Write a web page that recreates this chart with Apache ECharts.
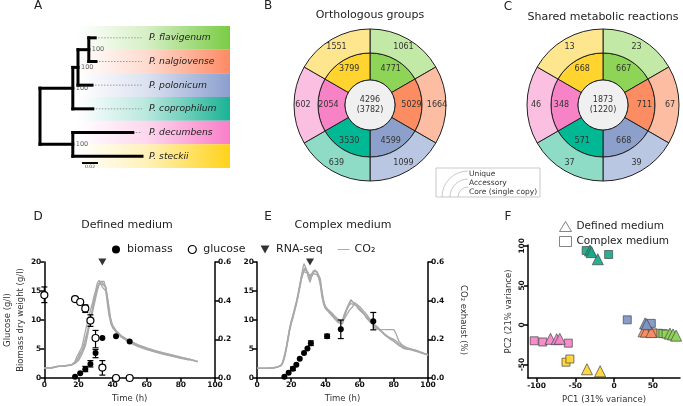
<!DOCTYPE html>
<html><head><meta charset="utf-8">
<script src="https://cdn.jsdelivr.net/npm/echarts@6/dist/echarts.min.js"></script>
<style>html,body{margin:0;padding:0;background:#fff}#c{width:683px;height:406px}</style>
</head><body><div id="c"></div>
<script>
const FONT = 'DejaVu Sans';

// ---------- Panel A : phylogeny ----------
const species = ['P. flavigenum','P. nalgiovense','P. polonicum','P. coprophilum','P. decumbens','P. steckii'];
const bandColors = ['#7acc45','#fd8a64','#8b9fcf','#1ab394','#f97ec8','#ffd319'];
const leafDepth = [0.069,0.070,0.065,0.066,0.116,0.1275];
const leafParent = ['FN','FN','I','U','L','L'];
const cladeIds = ['root','U','L','I','FN'];
const cladeDepth = [0,0.041,0.041,0.0475,0.061];
const cladeParent = [null,'root','root','U','I'];
const bootstrapNodes = ['FN','I','U','L'];
const bootstrapValues = [100,100,100,100];
const scaleBar = [0.0525, 0.02, 5.79];

// ---------- Panels B, C : donuts ----------
const ringInnerColors = ['#8ed557','#fc8d62','#8da0cb','#00b894','#f783c6','#ffd42f'];
const ringOuterColors = ['#c3e9a6','#fdbda3','#b9c7e3','#8fdcc6','#fbbfe2','#fee68e'];
const orthoAccessory = [4771,5029,4599,3530,2054,3799];
const orthoUnique = [1061,1664,1099,639,602,1551];
const orthoCore = ['4296','(3782)'];
const rxnAccessory = [667,711,668,571,348,668];
const rxnUnique = [23,67,39,37,46,13];
const rxnCore = ['1873','(1220)'];

// ---------- Panel D : defined medium ----------
const defGlucoseT = [0,18,21,24,27,30,34,42,50];
const defGlucose = [14.3,13.6,13.1,12.0,9.9,6.9,1.8,0,0];
const defGlucoseErr = [[0,13.0,15.7],[24,11.3,12.6],[27,8.9,10.9],[30,5.2,8.2],[34,0.5,3.0]];
const defBiomassT = [18,21,24,27,30,34,42,50];
const defBiomass = [0.2,0.8,1.5,2.4,4.3,6.9,7.2,6.3];
const defBiomassErr = [[24,1.1,2.0],[27,1.9,3.0],[30,3.5,4.9]];
const defRnaSeq = [[34,20]];
const co2DefA = [[0,0.050],[1,0.052],[2,0.055],[3,0.053],[4,0.051],[5,0.054],[6,0.058],[7,0.057],[8,0.060],[9,0.063],[10,0.061],[11,0.059],[12,0.062],[13,0.064],[14,0.066],[15,0.065],[16,0.068],[17,0.074],[18,0.085],[19,0.11],[20,0.125],[21,0.13],[22,0.16],[23,0.2],[24,0.24],[25,0.28],[26,0.31],[27,0.35],[28,0.38],[29,0.42],[30,0.45],[31,0.49],[32,0.505],[33,0.495],[34,0.47],[35,0.48],[36,0.45],[37,0.38],[38,0.32],[39,0.28],[40,0.26],[42,0.238],[45,0.212],[50,0.185],[55,0.165],[60,0.15],[65,0.137],[70,0.125],[75,0.115],[80,0.105],[85,0.095],[90,0.083]];
const co2DefB = [[0,0.051],[2,0.053],[4,0.052],[6,0.056],[8,0.06],[10,0.061],[12,0.063],[14,0.065],[16,0.068],[18,0.075],[20,0.09],[21,0.1],[22,0.122],[23,0.13],[24,0.165],[25,0.205],[26,0.25],[27,0.295],[28,0.34],[29,0.385],[30,0.425],[31,0.465],[32,0.49],[33,0.5],[34,0.485],[35,0.49],[36,0.47],[37,0.41],[38,0.34],[39,0.295],[40,0.268],[42,0.242],[45,0.216],[50,0.19],[55,0.17],[60,0.153],[65,0.14],[70,0.128],[75,0.117],[80,0.107],[85,0.097],[88,0.09]];
const co2DefC = [[0,0.052],[2,0.054],[4,0.053],[6,0.057],[8,0.061],[10,0.06],[12,0.064],[14,0.066],[16,0.069],[18,0.078],[20,0.1],[22,0.14],[24,0.2],[26,0.27],[28,0.35],[29,0.4],[30,0.44],[31,0.47],[32,0.48],[33,0.5],[34,0.51],[35,0.5],[36,0.46],[37,0.4],[38,0.33],[40,0.272],[42,0.246],[45,0.22],[50,0.193],[55,0.172],[60,0.156],[65,0.142],[70,0.13],[75,0.119],[80,0.108],[85,0.098],[90,0.086]];
const co2DefD = [[0,0.05],[2,0.053],[4,0.051],[6,0.055],[8,0.059],[10,0.062],[12,0.062],[14,0.064],[16,0.067],[18,0.08],[20,0.11],[21,0.13],[22,0.135],[23,0.15],[24,0.19],[26,0.26],[28,0.33],[30,0.41],[31,0.45],[32,0.48],[33,0.5],[34,0.5],[35,0.485],[36,0.47],[37,0.42],[38,0.36],[39,0.3],[40,0.27],[42,0.24],[45,0.213],[50,0.183],[55,0.162],[60,0.147],[65,0.134],[70,0.122],[75,0.112],[80,0.102],[85,0.092]];

// ---------- Panel E : complex medium ----------
const cpxBiomassT = [16,18.5,21,23,25,27.5,29.5,31.5,41,49,68];
const cpxBiomass = [0.2,0.9,1.6,2.3,3.3,4.3,5.1,6.0,7.2,8.4,9.8];
const cpxBiomassErr = [[21,1.3,1.9],[31.5,5.6,6.4],[41,6.85,7.55],[49,6.8,10.0],[68,8.3,11.3]];
const cpxRnaSeq = [[31,20]];
const co2CpxA = [[0,0.05],[4,0.05],[8,0.051],[10,0.053],[12,0.057],[14,0.065],[15,0.08],[16,0.11],[17,0.15],[18,0.2],[19,0.25],[20,0.29],[21,0.32],[22,0.355],[23,0.39],[24,0.43],[25,0.48],[26,0.53],[27,0.575],[27.5,0.592],[28,0.585],[29,0.56],[30,0.52],[31,0.495],[32,0.53],[33,0.555],[34,0.55],[35,0.55],[36,0.53],[37,0.48],[38,0.42],[39,0.38],[40,0.36],[42,0.345],[44,0.33],[46,0.31],[48,0.29],[49,0.285],[50,0.3],[51,0.33],[52,0.35],[53,0.36],[54,0.39],[55,0.405],[56,0.395],[57,0.38],[58,0.39],[59,0.37],[60,0.35],[62,0.335],[64,0.32],[66,0.3],[68,0.28],[70,0.268],[72,0.25],[75,0.225],[78,0.205],[80,0.19],[83,0.17],[86,0.155],[88,0.15],[90,0.148],[91,0.152],[92,0.145],[95,0.135],[98,0.125],[100,0.118]];
const co2CpxB = [[0,0.05],[4,0.05],[8,0.052],[10,0.053],[12,0.058],[14,0.066],[15,0.082],[16,0.115],[17,0.155],[18,0.205],[19,0.255],[20,0.295],[21,0.325],[22,0.36],[23,0.395],[24,0.435],[25,0.48],[26,0.525],[27,0.555],[28,0.57],[29,0.555],[30,0.53],[31,0.505],[32,0.51],[33,0.545],[34,0.56],[35,0.545],[36,0.54],[37,0.5],[38,0.44],[39,0.39],[40,0.37],[42,0.35],[44,0.335],[46,0.315],[48,0.3],[50,0.29],[51,0.3],[52,0.32],[54,0.35],[56,0.37],[57,0.39],[58,0.38],[60,0.37],[62,0.35],[64,0.33],[66,0.305],[68,0.27],[69,0.255],[72,0.252],[76,0.25],[80,0.25],[81,0.235],[83,0.19],[85,0.17],[88,0.155],[90,0.15],[94,0.14],[97,0.13],[100,0.12]];
const co2CpxC = [[0,0.051],[4,0.051],[8,0.052],[10,0.054],[12,0.058],[14,0.064],[15,0.078],[16,0.105],[17,0.145],[18,0.195],[19,0.245],[20,0.285],[21,0.315],[22,0.35],[23,0.385],[24,0.425],[25,0.47],[26,0.515],[27,0.55],[28,0.555],[29,0.545],[30,0.535],[31,0.53],[32,0.54],[33,0.55],[34,0.555],[35,0.55],[36,0.545],[37,0.515],[38,0.45],[39,0.4],[40,0.37],[42,0.345],[44,0.325],[46,0.31],[47,0.29],[48,0.28],[50,0.28],[51,0.31],[52,0.34],[53,0.37],[54,0.38],[55,0.385],[56,0.39],[58,0.375],[60,0.36],[62,0.34],[64,0.31],[66,0.29],[68,0.275],[70,0.26],[73,0.24],[76,0.215],[80,0.2],[83,0.178],[86,0.16],[90,0.15],[93,0.142],[96,0.13],[100,0.122]];
const co2CpxD = [[0,0.05],[4,0.05],[8,0.051],[10,0.052],[12,0.056],[14,0.063],[15,0.076],[16,0.1],[17,0.14],[18,0.19],[19,0.24],[20,0.28],[21,0.31],[22,0.345],[23,0.38],[24,0.42],[25,0.465],[26,0.51],[27,0.54],[28,0.565],[29,0.56],[30,0.545],[31,0.52],[32,0.525],[33,0.54],[34,0.545],[35,0.535],[36,0.52],[37,0.49],[38,0.43],[39,0.385],[40,0.36],[42,0.34],[44,0.32],[46,0.3],[48,0.285],[50,0.295],[51,0.32],[52,0.345],[53,0.36],[54,0.38],[55,0.4],[56,0.4],[57,0.385],[59,0.36],[61,0.345],[63,0.325],[65,0.305],[67,0.285],[70,0.26],[72,0.245],[75,0.22],[78,0.2],[80,0.19],[83,0.168],[86,0.152],[90,0.145],[95,0.132],[100,0.12]];

// ---------- Panel F : PCA ----------
const pcaColors = ['#8ed557','#fc8d62','#7f95c4','#16a98a','#f584c8','#ffd42f'];
const pcaDefined = [
  [[72,-11],[76,-12],[80,-13.5]],
  [[38,-8],[41,-8.5],[48,-9]],
  [[40,2],[42,1]],
  [[-31,94],[-29,92],[-21,83]],
  [[-82,-17.5],[-74,-18],[-70,-17.5]],
  [[-35,-56],[-18,-58.5]]
];
const pcaComplex = [
  [[57,-10.5],[63,-11],[67,-11.5]],
  [[43,-8.5],[50,-10]],
  [[17,6.5],[48,2]],
  [[-36,94],[-7,89]],
  [[-103,-20],[-92,-21.5],[-59,-23]],
  [[-62,-47],[-57,-43]]
];
const pcX = [-100,-50,0,50];
const pcY = [-50,0,50,100];

// ---------- build tree geometry ----------
const nodes = {};
cladeIds.forEach((id,i)=>{ nodes[id] = {id, depth: cladeDepth[i], parent: cladeParent[i], children: []}; });
species.forEach((s,i)=>{ nodes[s] = {id:s, depth: leafDepth[i], parent: leafParent[i], children: [], y: i+0.5, leaf:true}; });
Object.values(nodes).forEach(n=>{ if(n.parent) nodes[n.parent].children.push(n); });
function yOf(n){ if(n.y===undefined){ const ys=n.children.map(yOf); n.y=(Math.min(...ys)+Math.max(...ys))/2; } return n.y; }
Object.values(nodes).forEach(yOf);
const maxLeaf = Math.max(...leafDepth);
const solidSegs = [], dotSegs = [];
Object.values(nodes).forEach(n=>{
  if(n.parent){ const p=nodes[n.parent]; solidSegs.push([p.depth,n.y,n.depth,n.y]); }
  if(n.children.length){ const ys=n.children.map(c=>c.y); solidSegs.push([n.depth,Math.min(...ys),n.depth,Math.max(...ys)]); }
  if(n.leaf && n.depth<maxLeaf){ dotSegs.push([n.depth,n.y,maxLeaf,n.y]); }
});
const bootData = bootstrapNodes.map((id,i)=>({value:[nodes[id].depth, nodes[id].y], boot: bootstrapValues[i]}));

function segRender(width, color, dash){
  return function(params, api){
    const a = api.coord([api.value(0), api.value(1)]);
    const b = api.coord([api.value(2), api.value(3)]);
    return {type:'line', shape:{x1:a[0],y1:a[1],x2:b[0],y2:b[1]},
      style:{stroke:color, lineWidth:width, lineCap: dash ? 'butt':'square', lineDash: dash || null}};
  };
}
function errRender(params, api){
  const x = api.value(0);
  const a = api.coord([x, api.value(2)]), b = api.coord([x, api.value(1)]);
  const w = 3, st = {stroke:'#000', lineWidth:1.2};
  return {type:'group', children:[
    {type:'line', shape:{x1:a[0],y1:a[1],x2:b[0],y2:b[1]}, style:st},
    {type:'line', shape:{x1:a[0]-w,y1:a[1],x2:a[0]+w,y2:a[1]}, style:st},
    {type:'line', shape:{x1:b[0]-w,y1:b[1],x2:b[0]+w,y2:b[1]}, style:st}
  ]};
}

function bandColor(c){
  return new echarts.graphic.LinearGradient(0,0,1,0,[
    {offset:0, color: echarts.color.modifyAlpha(c,0)},
    {offset:0.45, color: echarts.color.modifyAlpha(c,0.3)},
    {offset:1, color: c}
  ]);
}

// ---------- donut helper ----------
function donut(cx, inner, outer, core){
  const common = {type:'pie', center:[cx,105], startAngle:90, clockwise:true, silent:true,
    avoidLabelOverlap:false, labelLine:{show:false}, emphasis:{disabled:true},
    itemStyle:{borderColor:'#222', borderWidth:1}};
  const lbl = {show:true, position:'inside', color:'#333', fontSize:8, fontFamily:FONT,
    formatter: p => String(p.data.count)};
  return [
    Object.assign({}, common, {radius:[25,52], label:lbl,
      data: inner.map((v,i)=>({value:1, name:species[i], count:v, itemStyle:{color:ringInnerColors[i]}}))}),
    Object.assign({}, common, {radius:[52,76], label:lbl,
      data: outer.map((v,i)=>({value:1, name:species[i], count:v, itemStyle:{color:ringOuterColors[i]}}))}),
    Object.assign({}, common, {radius:[0,25], label:{show:true, position:'center', color:'#333', fontSize:8, lineHeight:10, fontFamily:FONT, formatter: core.join('\n')},
      data:[{value:1, name:'core', itemStyle:{color:'#f0f0f0'}}]})
  ];
}

const axBase = {
  axisLine:{show:true, onZero:false, lineStyle:{color:'#000', width:1.5}},
  axisTick:{show:true, inside:false, length:4, lineStyle:{color:'#000', width:1.5}},
  axisLabel:{color:'#111', fontSize:7.5, fontWeight:'bold', fontFamily:FONT, margin:3},
  splitLine:{show:false}
};
const nameStyle = {color:'#333', fontSize:8.5, fontFamily:FONT};
function ax(o){ return Object.assign({}, JSON.parse(JSON.stringify(axBase)), o); }

const co2Line = (data, xi, yi) => ({type:'line', name:'CO₂', xAxisIndex:xi, yAxisIndex:yi, data, symbol:'none',
  lineStyle:{color:'#a9a9a9', width:1.3}, itemStyle:{color:'#a9a9a9'}, z:1, silent:true});
const zip = (t,v) => t.map((x,i)=>[x,v[i]]);
const triDown = 'path://M0,0L10,0L5,9Z';
const lineIcon = 'path://M0,0L20,0L20,1.6L0,1.6Z';
const lblStyle = {color:'#111', fontSize:7.5, fontWeight:'bold', fontFamily:FONT};

const series = [
  // A bands
  {type:'bar', xAxisIndex:0, yAxisIndex:0, barCategoryGap:'0%', silent:true, z:0,
   data: species.map((s,i)=>({value:1, itemStyle:{color:bandColor(bandColors[i])}})),
   label:{show:true, position:[72,'50%'], verticalAlign:'middle', align:'left', formatter:'{b}',
     fontStyle:'italic', fontSize:9.2, color:'#222', fontFamily:FONT}},
  // A tree
  {type:'custom', xAxisIndex:1, yAxisIndex:1, data: dotSegs, encode:{x:[0,2], y:[1,3]}, renderItem: segRender(0.8,'#888',[1.5,1.5]), silent:true, z:3},
  {type:'custom', xAxisIndex:1, yAxisIndex:1, data: solidSegs, encode:{x:[0,2], y:[1,3]}, renderItem: segRender(3,'#000'), silent:true, z:4},
  {type:'custom', xAxisIndex:1, yAxisIndex:1, data:[[scaleBar[0], scaleBar[2], scaleBar[0]+scaleBar[1], scaleBar[2]]], encode:{x:[0,2], y:[1,3]}, silent:true, z:4,
   renderItem: function(params, api){
     const a = api.coord([api.value(0), api.value(1)]), b = api.coord([api.value(2), api.value(3)]);
     return {type:'group', children:[
       {type:'line', shape:{x1:a[0],y1:a[1],x2:b[0],y2:b[1]}, style:{stroke:'#000', lineWidth:2}},
       {type:'text', x:(a[0]+b[0])/2, y:a[1]+4, style:{text: String(scaleBar[1]), fontSize:4.5, fill:'#444', align:'center', verticalAlign:'middle', fontFamily:FONT}}
     ]};
   }},
  {type:'scatter', xAxisIndex:1, yAxisIndex:1, data: bootData, symbolSize:0, silent:true, z:5,
   label:{show:true, position:'right', distance:3, formatter: p=>String(p.data.boot), fontSize:6.5, color:'#333', fontFamily:FONT}},
  // donuts
  ...donut(370, orthoAccessory, orthoUnique, orthoCore),
  ...donut(603, rxnAccessory, rxnUnique, rxnCore),
  // D
  co2Line(co2DefA,2,3), co2Line(co2DefB,2,3), co2Line(co2DefC,2,3), co2Line(co2DefD,2,3),
  {type:'custom', xAxisIndex:2, yAxisIndex:2, data: defGlucoseErr, encode:{x:0, y:[1,2]}, renderItem: errRender, silent:true, z:5},
  {type:'custom', xAxisIndex:2, yAxisIndex:2, data: defBiomassErr, encode:{x:0, y:[1,2]}, renderItem: errRender, silent:true, z:5},
  {type:'scatter', name:'glucose', xAxisIndex:2, yAxisIndex:2, data: zip(defGlucoseT, defGlucose), symbol:'circle', symbolSize:7, clip:false,
   itemStyle:{color:'#fff', borderColor:'#000', borderWidth:1.2, opacity:1}, z:6},
  {type:'scatter', name:'biomass', xAxisIndex:2, yAxisIndex:2, data: zip(defBiomassT, defBiomass), symbol:'circle', symbolSize:6, clip:false,
   itemStyle:{color:'#000', opacity:1}, z:6},
  {type:'scatter', name:'RNA-seq', xAxisIndex:2, yAxisIndex:2, data: defRnaSeq, symbol:triDown, symbolSize:[8,7], clip:false,
   itemStyle:{color:'#000'}, z:6},
  // E
  co2Line(co2CpxA,3,5), co2Line(co2CpxB,3,5), co2Line(co2CpxC,3,5), co2Line(co2CpxD,3,5),
  {type:'custom', xAxisIndex:3, yAxisIndex:4, data: cpxBiomassErr, encode:{x:0, y:[1,2]}, renderItem: errRender, silent:true, z:5},
  {type:'scatter', name:'biomass', xAxisIndex:3, yAxisIndex:4, data: zip(cpxBiomassT, cpxBiomass), symbol:'circle', symbolSize:6, clip:false,
   itemStyle:{color:'#000', opacity:1}, z:6},
  {type:'scatter', name:'RNA-seq', xAxisIndex:3, yAxisIndex:4, data: cpxRnaSeq, symbol:triDown, symbolSize:[8,7], clip:false,
   itemStyle:{color:'#000'}, z:6},
  // F legend dummies
  {type:'scatter', name:'Defined medium', xAxisIndex:4, yAxisIndex:6, data:[], symbol:'triangle', itemStyle:{color:'#fff', borderColor:'#666', borderWidth:1}},
  {type:'scatter', name:'Complex medium', xAxisIndex:4, yAxisIndex:6, data:[], symbol:'rect', itemStyle:{color:'#fff', borderColor:'#666', borderWidth:1}},
];
species.forEach((s,i)=>{
  series.push({type:'scatter', name: s+' complex', xAxisIndex:4, yAxisIndex:6, data: pcaComplex[i], symbol:'rect', symbolSize:8, clip:false,
    itemStyle:{color:pcaColors[i], borderColor:'#4a4a4a', borderWidth:0.8, opacity:0.92}, z:5, silent:true});
  series.push({type:'scatter', name: s+' defined', xAxisIndex:4, yAxisIndex:6, data: pcaDefined[i], symbol:'triangle', symbolSize:11, clip:false,
    itemStyle:{color:pcaColors[i], borderColor:'#4a4a4a', borderWidth:0.8, opacity:0.92}, z:5, silent:true});
});

const txt = (text, x, y, size, extra) => ({type:'text', x, y, silent:true,
  style: Object.assign({text, fontSize:size, fontFamily:FONT, fill:'#222', align:'center', verticalAlign:'middle'}, extra||{})});

const option = {
  animation:false,
  backgroundColor:'#fff',
  textStyle:{fontFamily:FONT},
  grid:[
    {left:77, top:26, width:153, height:142},
    {left:40, top:26, width:160, height:142},
    {left:39, top:262, width:176, height:116},
    {left:257, top:262, width:171, height:116},
    {left:528, top:245, width:152, height:133}
  ],
  xAxis:[
    {gridIndex:0, type:'value', min:0, max:1, show:false},
    {gridIndex:1, type:'value', min:0, max:0.2, show:false},
    ax({gridIndex:2, type:'value', min:0, max:100, interval:20, name:'Time (h)', nameLocation:'middle', nameGap:16, nameTextStyle:nameStyle}),
    ax({gridIndex:3, type:'value', min:0, max:100, interval:20, name:'Time (h)', nameLocation:'middle', nameGap:16, nameTextStyle:nameStyle}),
    ax({gridIndex:4, type:'value', min:-111, max:85, name:'PC1 (31% variance)', nameLocation:'middle', nameGap:17, nameTextStyle:nameStyle,
        axisLabel:Object.assign({margin:4, customValues:pcX}, lblStyle),
        axisTick:{show:true, length:4, lineStyle:{color:'#000', width:1.5}, customValues:pcX}})
  ],
  yAxis:[
    {gridIndex:0, type:'category', data:species, inverse:true, show:false},
    {gridIndex:1, type:'value', min:0, max:6, inverse:true, show:false},
    ax({gridIndex:2, type:'value', min:0, max:20, interval:5, position:'left',
        name:'Glucose (g/l)\nBiomass dry weight (g/l)', nameLocation:'middle', nameGap:14, nameRotate:90,
        nameTextStyle:Object.assign({lineHeight:13}, nameStyle)}),
    ax({gridIndex:2, type:'value', min:0, max:0.6, interval:0.2, position:'right',
        axisLabel:Object.assign({margin:3, formatter:v=>v.toFixed(1)}, lblStyle)}),
    ax({gridIndex:3, type:'value', min:0, max:20, interval:5, position:'left'}),
    ax({gridIndex:3, type:'value', min:0, max:0.6, interval:0.2, position:'right',
        name:'CO₂ exhaust (%)', nameLocation:'middle', nameGap:31, nameRotate:-90, nameTextStyle:nameStyle,
        axisLabel:Object.assign({margin:3, formatter:v=>v.toFixed(1)}, lblStyle)}),
    ax({gridIndex:4, type:'value', min:-67, max:101, name:'PC2 (21% variance)', nameLocation:'middle', nameGap:15, nameRotate:90, nameTextStyle:nameStyle,
        axisLabel:Object.assign({margin:2, rotate:90, customValues:pcY}, lblStyle),
        axisTick:{show:true, length:4, lineStyle:{color:'#000', width:1.5}, customValues:pcY}})
  ],
  legend:[
    {left:107, top:239, itemWidth:12, itemHeight:8, itemGap:15, selectedMode:false,
     textStyle:{fontSize:11, color:'#222', fontFamily:FONT},
     data:[
       {name:'biomass', icon:'circle', itemStyle:{color:'#000', borderWidth:0}},
       {name:'glucose', icon:'circle', itemStyle:{color:'#fff', borderColor:'#000', borderWidth:1.2}},
       {name:'RNA-seq', icon:triDown, itemStyle:{color:'#000', borderWidth:0}},
       {name:'CO₂', icon:lineIcon, itemStyle:{color:'#a9a9a9', borderWidth:0}}
     ]},
    {left:554, top:216, orient:'vertical', itemWidth:12, itemHeight:10, itemGap:4, selectedMode:false,
     textStyle:{fontSize:10.5, color:'#222', fontFamily:FONT},
     data:[
       {name:'Defined medium', icon:'triangle', itemStyle:{color:'#fff', borderColor:'#666', borderWidth:1}},
       {name:'Complex medium', icon:'rect', itemStyle:{color:'#fff', borderColor:'#666', borderWidth:1}}
     ]}
  ],
  graphic:[
    txt('A',38,6,12), txt('B',268,6,12), txt('C',508,7,12),
    txt('D',38,217,12), txt('E',268,217,12), txt('F',508,217,12),
    txt('Orthologous groups',370,15,11), txt('Shared metabolic reactions',603,17,11),
    txt('Defined medium',127,225,11), txt('Complex medium',343,225,11),
    {type:'rect', silent:true, shape:{x:436,y:168,width:104,height:29}, style:{fill:'#fff', stroke:'#bbb', lineWidth:0.8}},
    {type:'arc', silent:true, shape:{cx:468, cy:197, r:26, startAngle:Math.PI, endAngle:Math.PI*1.5}, style:{stroke:'#bbb', fill:null, lineWidth:0.8}},
    {type:'arc', silent:true, shape:{cx:468, cy:197, r:18, startAngle:Math.PI, endAngle:Math.PI*1.5}, style:{stroke:'#bbb', fill:null, lineWidth:0.8}},
    {type:'arc', silent:true, shape:{cx:468, cy:197, r:10, startAngle:Math.PI, endAngle:Math.PI*1.5}, style:{stroke:'#bbb', fill:null, lineWidth:0.8}},
    txt('Unique',469,174,7.5,{align:'left', fill:'#333'}),
    txt('Accessory',469,183,7.5,{align:'left', fill:'#333'}),
    txt('Core (single copy)',469,192,7.5,{align:'left', fill:'#333'})
  ],
  series
};
const chart = echarts.init(document.getElementById('c'));
chart.setOption(option);
</script></body></html>
